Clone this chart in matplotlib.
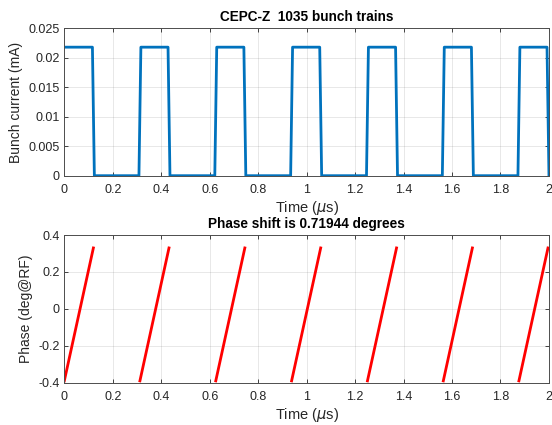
import numpy as np
import matplotlib
matplotlib.use("Agg")
import matplotlib.pyplot as plt

plt.rcParams['font.family'] = ['Liberation Sans', 'DejaVu Sans']

# train timing (us)
train_start = [0.000, 0.312, 0.625, 0.938, 1.251, 1.564, 1.876]
train_end = [0.120, 0.432, 0.745, 1.058, 1.371, 1.684, 1.996]
bunch_current = 0.0218  # mA
phase_first = -0.39  # deg@RF at head of train
phase_last = 0.33    # deg@RF at tail of train
phase_shift = 0.71944

# build the square wave from the train edges
edge = 0.004
t_cur, i_cur = [], []
for s, e in zip(train_start, train_end):
    if s > 0:
        t_cur += [s - edge]
        i_cur += [0]
    t_cur += [s + edge if s > 0 else s, e - edge]
    i_cur += [bunch_current, bunch_current]
    if e < 2.0:
        t_cur += [e + edge]
        i_cur += [0]
    else:
        t_cur += [e]
        i_cur += [bunch_current]

fig = plt.figure(figsize=(5.52, 4.25), dpi=100)
ax1 = fig.add_axes([0.1165, 0.5866, 0.878, 0.3468])
ax2 = fig.add_axes([0.1165, 0.0995, 0.878, 0.3475])

axis_col = '#4d4d4d'
for ax in (ax1, ax2):
    ax.grid(True, color='#262626', alpha=0.12, linewidth=0.6)
    ax.tick_params(direction='in', top=True, right=True, labelsize=9,
                   colors='#262626', length=3, width=0.6)
    ax.tick_params(axis='x', pad=6)
    for sp in ax.spines.values():
        sp.set_color(axis_col)
        sp.set_linewidth(0.7)
    ax.set_xlim(0, 2)
    ax.set_xticks(np.arange(0, 2.01, 0.2))
    ax.set_xticklabels(['0', '0.2', '0.4', '0.6', '0.8', '1', '1.2', '1.4', '1.6', '1.8', '2'])
    ax.set_xlabel(r'Time ($\mu$s)', fontsize=10.5, color='#262626', labelpad=2)

ax1.plot(t_cur, i_cur, color='#0072BD', linewidth=2)
ax1.set_ylim(0, 0.025)
ax1.set_yticks([0, 0.005, 0.01, 0.015, 0.02, 0.025])
ax1.set_yticklabels(['0', '0.005', '0.01', '0.015', '0.02', '0.025'])
ax1.set_ylabel('Bunch current (mA)', fontsize=10, color='#262626')
ax1.set_title('CEPC-Z  1035 bunch trains', fontsize=9.8, fontweight='bold', pad=5)

for s, e in zip(train_start, train_end):
    ax2.plot([s, e], [phase_first, phase_last], color='red', linewidth=2)
ax2.set_ylim(-0.4, 0.4)
ax2.set_yticks([-0.4, -0.2, 0, 0.2, 0.4])
ax2.set_yticklabels(['-0.4', '-0.2', '0', '0.2', '0.4'])
ax2.set_ylabel('Phase (deg@RF)', fontsize=10, color='#262626')
ax2.set_title('Phase shift is %.5f degrees' % phase_shift, fontsize=9.8, fontweight='bold', pad=5)

fig.savefig('out.png', dpi=100)
